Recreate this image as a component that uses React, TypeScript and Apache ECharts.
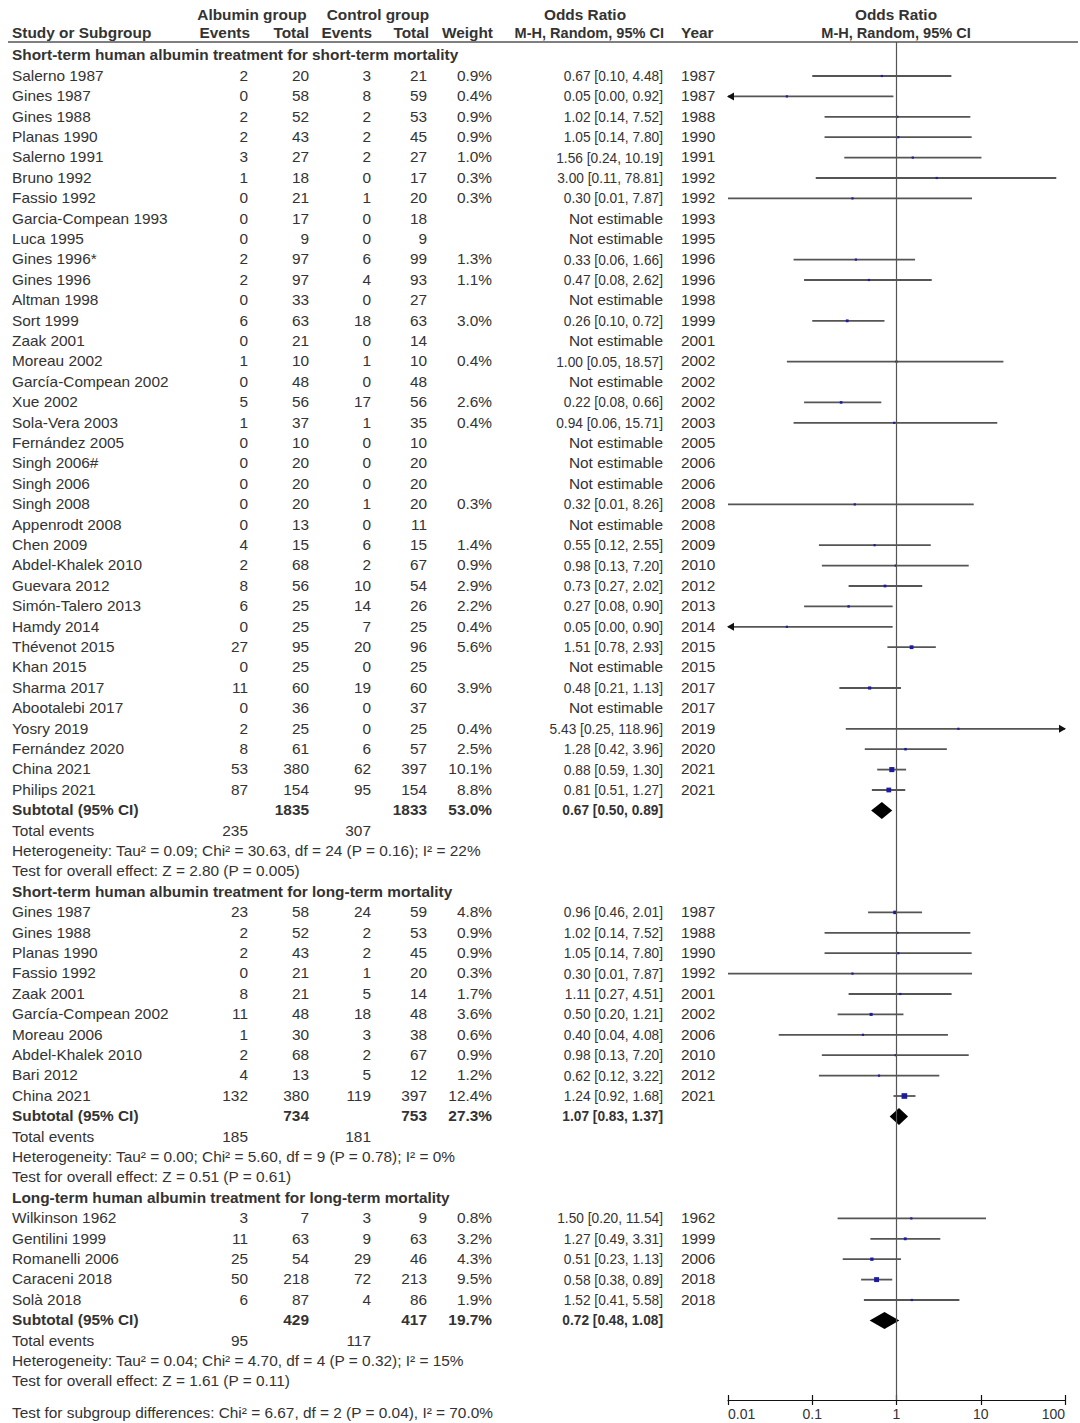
import React, { useEffect, useRef } from "react";
import * as echarts from "echarts";

type Study = [string, number, number, number, number, number | null, number | null, number | null, number | null, number];

// ---------------- DATA ----------------
const headerGroups = ["Albumin group", "Control group", "Odds Ratio", "Odds Ratio"];
const headerCols = ["Study or Subgroup", "Events", "Total", "Events", "Total", "Weight", "M-H, Random, 95% CI", "Year", "M-H, Random, 95% CI"];

const group1Title = "Short-term human albumin treatment for short-term mortality";
const group1Studies: Study[] = [
  ["Salerno 1987", 2, 20, 3, 21, 0.9, 0.67, 0.10, 4.48, 1987],
  ["Gines 1987", 0, 58, 8, 59, 0.4, 0.05, 0.00, 0.92, 1987],
  ["Gines 1988", 2, 52, 2, 53, 0.9, 1.02, 0.14, 7.52, 1988],
  ["Planas 1990", 2, 43, 2, 45, 0.9, 1.05, 0.14, 7.80, 1990],
  ["Salerno 1991", 3, 27, 2, 27, 1.0, 1.56, 0.24, 10.19, 1991],
  ["Bruno 1992", 1, 18, 0, 17, 0.3, 3.00, 0.11, 78.81, 1992],
  ["Fassio 1992", 0, 21, 1, 20, 0.3, 0.30, 0.01, 7.87, 1992],
  ["Garcia-Compean 1993", 0, 17, 0, 18, null, null, null, null, 1993],
  ["Luca 1995", 0, 9, 0, 9, null, null, null, null, 1995],
  ["Gines 1996*", 2, 97, 6, 99, 1.3, 0.33, 0.06, 1.66, 1996],
  ["Gines 1996", 2, 97, 4, 93, 1.1, 0.47, 0.08, 2.62, 1996],
  ["Altman 1998", 0, 33, 0, 27, null, null, null, null, 1998],
  ["Sort 1999", 6, 63, 18, 63, 3.0, 0.26, 0.10, 0.72, 1999],
  ["Zaak 2001", 0, 21, 0, 14, null, null, null, null, 2001],
  ["Moreau 2002", 1, 10, 1, 10, 0.4, 1.00, 0.05, 18.57, 2002],
  ["García-Compean 2002", 0, 48, 0, 48, null, null, null, null, 2002],
  ["Xue 2002", 5, 56, 17, 56, 2.6, 0.22, 0.08, 0.66, 2002],
  ["Sola-Vera 2003", 1, 37, 1, 35, 0.4, 0.94, 0.06, 15.71, 2003],
  ["Fernández 2005", 0, 10, 0, 10, null, null, null, null, 2005],
  ["Singh 2006#", 0, 20, 0, 20, null, null, null, null, 2006],
  ["Singh 2006", 0, 20, 0, 20, null, null, null, null, 2006],
  ["Singh 2008", 0, 20, 1, 20, 0.3, 0.32, 0.01, 8.26, 2008],
  ["Appenrodt 2008", 0, 13, 0, 11, null, null, null, null, 2008],
  ["Chen 2009", 4, 15, 6, 15, 1.4, 0.55, 0.12, 2.55, 2009],
  ["Abdel-Khalek 2010", 2, 68, 2, 67, 0.9, 0.98, 0.13, 7.20, 2010],
  ["Guevara 2012", 8, 56, 10, 54, 2.9, 0.73, 0.27, 2.02, 2012],
  ["Simón-Talero 2013", 6, 25, 14, 26, 2.2, 0.27, 0.08, 0.90, 2013],
  ["Hamdy 2014", 0, 25, 7, 25, 0.4, 0.05, 0.00, 0.90, 2014],
  ["Thévenot 2015", 27, 95, 20, 96, 5.6, 1.51, 0.78, 2.93, 2015],
  ["Khan 2015", 0, 25, 0, 25, null, null, null, null, 2015],
  ["Sharma 2017", 11, 60, 19, 60, 3.9, 0.48, 0.21, 1.13, 2017],
  ["Abootalebi 2017", 0, 36, 0, 37, null, null, null, null, 2017],
  ["Yosry 2019", 2, 25, 0, 25, 0.4, 5.43, 0.25, 118.96, 2019],
  ["Fernández 2020", 8, 61, 6, 57, 2.5, 1.28, 0.42, 3.96, 2020],
  ["China 2021", 53, 380, 62, 397, 10.1, 0.88, 0.59, 1.30, 2021],
  ["Philips 2021", 87, 154, 95, 154, 8.8, 0.81, 0.51, 1.27, 2021],
];
const group1Subtotal = [1835, 1833, 53.0, 0.67, 0.50, 0.89];
const group1Events = [235, 307];
const group1Het = "Heterogeneity: Tau² = 0.09; Chi² = 30.63, df = 24 (P = 0.16); I² = 22%";
const group1Test = "Test for overall effect: Z = 2.80 (P = 0.005)";

const group2Title = "Short-term human albumin treatment for long-term mortality";
const group2Studies: Study[] = [
  ["Gines 1987", 23, 58, 24, 59, 4.8, 0.96, 0.46, 2.01, 1987],
  ["Gines 1988", 2, 52, 2, 53, 0.9, 1.02, 0.14, 7.52, 1988],
  ["Planas 1990", 2, 43, 2, 45, 0.9, 1.05, 0.14, 7.80, 1990],
  ["Fassio 1992", 0, 21, 1, 20, 0.3, 0.30, 0.01, 7.87, 1992],
  ["Zaak 2001", 8, 21, 5, 14, 1.7, 1.11, 0.27, 4.51, 2001],
  ["García-Compean 2002", 11, 48, 18, 48, 3.6, 0.50, 0.20, 1.21, 2002],
  ["Moreau 2006", 1, 30, 3, 38, 0.6, 0.40, 0.04, 4.08, 2006],
  ["Abdel-Khalek 2010", 2, 68, 2, 67, 0.9, 0.98, 0.13, 7.20, 2010],
  ["Bari 2012", 4, 13, 5, 12, 1.2, 0.62, 0.12, 3.22, 2012],
  ["China 2021", 132, 380, 119, 397, 12.4, 1.24, 0.92, 1.68, 2021],
];
const group2Subtotal = [734, 753, 27.3, 1.07, 0.83, 1.37];
const group2Events = [185, 181];
const group2Het = "Heterogeneity: Tau² = 0.00; Chi² = 5.60, df = 9 (P = 0.78); I² = 0%";
const group2Test = "Test for overall effect: Z = 0.51 (P = 0.61)";

const group3Title = "Long-term human albumin treatment for long-term mortality";
const group3Studies: Study[] = [
  ["Wilkinson 1962", 3, 7, 3, 9, 0.8, 1.50, 0.20, 11.54, 1962],
  ["Gentilini 1999", 11, 63, 9, 63, 3.2, 1.27, 0.49, 3.31, 1999],
  ["Romanelli 2006", 25, 54, 29, 46, 4.3, 0.51, 0.23, 1.13, 2006],
  ["Caraceni 2018", 50, 218, 72, 213, 9.5, 0.58, 0.38, 0.89, 2018],
  ["Solà 2018", 6, 87, 4, 86, 1.9, 1.52, 0.41, 5.58, 2018],
];
const group3Subtotal = [429, 417, 19.7, 0.72, 0.48, 1.08];
const group3Events = [95, 117];
const group3Het = "Heterogeneity: Tau² = 0.04; Chi² = 4.70, df = 4 (P = 0.32); I² = 15%";
const group3Test = "Test for overall effect: Z = 1.61 (P = 0.11)";

const subgroupTest = "Test for subgroup differences: Chi² = 6.67, df = 2 (P = 0.04), I² = 70.0%";
const xTicks = [0.01, 0.1, 1, 10, 100];

// ---------------- LAYOUT ----------------
const W = 1080;
const H = 1423;
const ROW0 = 76;
const ROW_H = 20.4;
const GRID_TOP = 42;
const GRID_BOTTOM_Y = 1400;
const FONT = '"Liberation Sans", Arial, Helvetica, sans-serif';
const FS = 14;
const SX = 1.1;
const SX_CI = 0.98;
const INK = "#333333";
const COL = { name: 12, e1: 248, n1: 309, e2: 371, n2: 427, w: 492, ci: 663, year: 681 };

const rowY = (r: number) => ROW0 + r * ROW_H;

function txt(str: string, x: number, y: number, align: string, bold = false, sx = SX): any {
  return {
    type: "text",
    x,
    y,
    scaleX: sx,
    silent: true,
    style: {
      text: str,
      x: 0,
      y: 0,
      align,
      verticalAlign: "middle",
      textAlign: align,
      textVerticalAlign: "middle",
      fontSize: FS,
      fontFamily: FONT,
      fontWeight: bold ? "bold" : "normal",
      fill: INK,
    },
  };
}

const f2 = (v: number) => v.toFixed(2);

function buildOption() {
  const groups = [
    { title: group1Title, studies: group1Studies, sub: group1Subtotal, ev: group1Events, het: group1Het, test: group1Test },
    { title: group2Title, studies: group2Studies, sub: group2Subtotal, ev: group2Events, het: group2Het, test: group2Test },
    { title: group3Title, studies: group3Studies, sub: group3Subtotal, ev: group3Events, het: group3Het, test: group3Test },
  ];

  const g: any[] = [];
  // header
  g.push(txt(headerGroups[0], 252, 15, "center", true));
  g.push(txt(headerGroups[1], 378, 15, "center", true));
  g.push(txt(headerGroups[2], 585, 15, "center", true));
  g.push(txt(headerGroups[3], 896, 15, "center", true));
  const hy = 33.5;
  g.push(txt(headerCols[0], COL.name, hy, "left", true));
  g.push(txt(headerCols[1], COL.e1 + 2, hy, "right", true));
  g.push(txt(headerCols[2], COL.n1, hy, "right", true));
  g.push(txt(headerCols[3], COL.e2 + 1, hy, "right", true));
  g.push(txt(headerCols[4], COL.n2 + 2, hy, "right", true));
  g.push(txt(headerCols[5], COL.w + 1, hy, "right", true));
  g.push(txt(headerCols[6], COL.ci + 1, hy, "right", true, 1.04));
  g.push(txt(headerCols[7], COL.year, hy, "left", true));
  g.push(txt(headerCols[8], 896, hy, "center", true, 1.04));
  g.push({ type: "line", silent: true, shape: { x1: 8, y1: GRID_TOP, x2: 1078, y2: GRID_TOP }, style: { stroke: "#555", lineWidth: 1.5 } });

  const ciData: number[][] = [];
  const diaData: number[][] = [];
  let r = -1;
  for (const grp of groups) {
    g.push(txt(grp.title, COL.name, rowY(r), "left", true));
    r++;
    for (const s of grp.studies) {
      const y = rowY(r);
      g.push(txt(s[0], COL.name, y, "left"));
      g.push(txt(String(s[1]), COL.e1, y, "right"));
      g.push(txt(String(s[2]), COL.n1, y, "right"));
      g.push(txt(String(s[3]), COL.e2, y, "right"));
      g.push(txt(String(s[4]), COL.n2, y, "right"));
      if (s[5] != null) g.push(txt(s[5].toFixed(1) + "%", COL.w, y, "right"));
      if (s[6] != null) {
        g.push(txt(`${f2(s[6])} [${f2(s[7] as number)}, ${f2(s[8] as number)}]`, COL.ci, y, "right", false, SX_CI));
        ciData.push([r, s[6], s[7] as number, s[8] as number, s[5] as number]);
      } else {
        g.push(txt("Not estimable", COL.ci, y, "right"));
      }
      g.push(txt(String(s[9]), COL.year, y, "left"));
      r++;
    }
    const sy = rowY(r);
    g.push(txt("Subtotal (95% CI)", COL.name, sy, "left", true));
    g.push(txt(String(grp.sub[0]), COL.n1, sy, "right", true));
    g.push(txt(String(grp.sub[1]), COL.n2, sy, "right", true));
    g.push(txt(grp.sub[2].toFixed(1) + "%", COL.w, sy, "right", true));
    g.push(txt(`${f2(grp.sub[3])} [${f2(grp.sub[4])}, ${f2(grp.sub[5])}]`, COL.ci, sy, "right", true, SX_CI));
    diaData.push([r, grp.sub[3], grp.sub[4], grp.sub[5]]);
    r++;
    g.push(txt("Total events", COL.name, rowY(r), "left"));
    g.push(txt(String(grp.ev[0]), COL.e1, rowY(r), "right"));
    g.push(txt(String(grp.ev[1]), COL.e2, rowY(r), "right"));
    r++;
    g.push(txt(grp.het, COL.name, rowY(r), "left"));
    r++;
    g.push(txt(grp.test, COL.name, rowY(r), "left"));
    r++;
  }
  g.push(txt(subgroupTest, COL.name, 1413, "left"));

  const yMin = (GRID_TOP - ROW0) / ROW_H;
  const yMax = (GRID_BOTTOM_Y - ROW0) / ROW_H;
  const axisMin = xTicks[0];
  const axisMax = xTicks[xTicks.length - 1];

  const logAxisBase = {
    type: "log",
    logBase: 10,
    min: axisMin,
    max: axisMax,
    interval: 1,
    gridIndex: 0,
    position: "bottom",
    splitLine: { show: false },
  };

  return {
    animation: false,
    backgroundColor: "#ffffff",
    grid: { left: 728, right: W - 1065, top: GRID_TOP, bottom: H - GRID_BOTTOM_Y, containLabel: false },
    xAxis: [
      {
        ...logAxisBase,
        axisLine: { show: true, onZero: false, lineStyle: { color: "#111", width: 1.2 } },
        axisTick: { show: true, length: 5, inside: false, lineStyle: { color: "#111", width: 1.2 } },
        axisLabel: {
          show: true,
          margin: 7,
          fontSize: FS,
          fontFamily: FONT,
          color: INK,
          alignMinLabel: "left",
          alignMaxLabel: "right",
          formatter: (v: number) => String(Number(v.toPrecision(2))),
        },
      },
      {
        ...logAxisBase,
        axisLine: { show: false, onZero: false },
        axisTick: { show: true, length: 5, inside: true, lineStyle: { color: "#111", width: 1.2 } },
        axisLabel: { show: false },
      },
    ],
    yAxis: {
      type: "value",
      inverse: true,
      min: yMin,
      max: yMax,
      show: false,
      splitLine: { show: false },
    },
    graphic: g,
    series: [
      {
        type: "custom",
        xAxisIndex: 0,
        yAxisIndex: 0,
        encode: { x: 1, y: 0 },
        data: ciData,
        clip: false,
        silent: true,
        markLine: {
          silent: true,
          symbol: "none",
          label: { show: false },
          lineStyle: { color: "#555", width: 1.2, type: "solid" },
          data: [{ xAxis: 1 }],
        },
        renderItem: (_p: any, api: any) => {
          const row = api.value(0);
          const or = api.value(1);
          const lo = api.value(2);
          const hi = api.value(3);
          const w = api.value(4);
          const pLo = api.coord([Math.max(lo, axisMin), row]);
          const pHi = api.coord([Math.min(hi, axisMax), row]);
          const pOr = api.coord([or, row]);
          const y = pOr[1];
          const children: any[] = [
            { type: "line", shape: { x1: pLo[0], y1: y, x2: pHi[0], y2: y }, style: { stroke: "#555", lineWidth: 1.8 } },
          ];
          if (lo < axisMin) {
            children.push({ type: "polygon", shape: { points: [[pLo[0] - 1, y], [pLo[0] + 6, y - 4], [pLo[0] + 6, y + 4]] }, style: { fill: "#111" } });
          }
          if (hi > axisMax) {
            children.push({ type: "polygon", shape: { points: [[pHi[0] + 1, y], [pHi[0] - 6, y - 4], [pHi[0] - 6, y + 4]] }, style: { fill: "#111" } });
          }
          const s = Math.max(2.2, 1.6 * Math.sqrt(w));
          children.push({ type: "rect", shape: { x: pOr[0] - s / 2, y: y - s / 2, width: s, height: s }, style: { fill: "#1c1ca0" } });
          return { type: "group", children };
        },
      },
      {
        type: "custom",
        xAxisIndex: 0,
        yAxisIndex: 0,
        encode: { x: 1, y: 0 },
        data: diaData,
        clip: false,
        silent: true,
        renderItem: (_p: any, api: any) => {
          const row = api.value(0);
          const pOr = api.coord([api.value(1), row]);
          const pLo = api.coord([api.value(2), row]);
          const pHi = api.coord([api.value(3), row]);
          const y = pOr[1];
          const hh = 8.5;
          return {
            type: "polygon",
            shape: { points: [[pLo[0], y], [pOr[0], y - hh], [pHi[0], y], [pOr[0], y + hh]] },
            style: { fill: "#000" },
          };
        },
      },
    ],
  };
}

export default function App() {
  const ref = useRef<HTMLDivElement>(null);
  useEffect(() => {
    if (!ref.current) return;
    const chart = echarts.init(ref.current, undefined, { renderer: "svg" });
    chart.setOption(buildOption() as any);
    return () => chart.dispose();
  }, []);
  return (
    <div
      ref={ref}
      style={{ position: "absolute", left: 0, top: 0, width: W, height: H, background: "#fff" }}
    />
  );
}
